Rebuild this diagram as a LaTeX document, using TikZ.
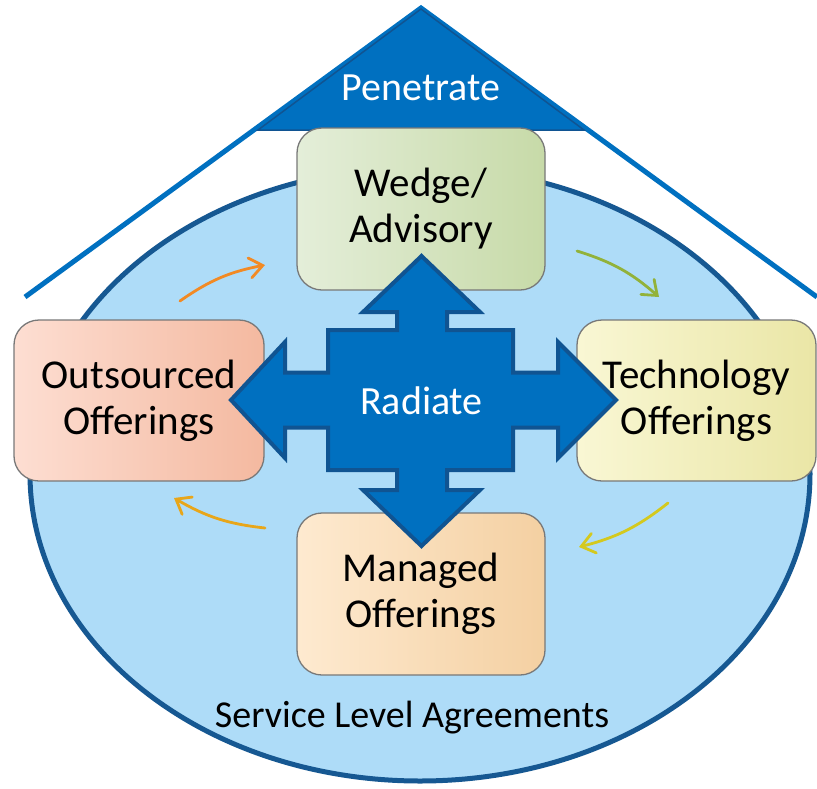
\documentclass[tikz,border=0pt]{standalone}
\usepackage{fontspec}
\setmainfont{Carlito}
\usetikzlibrary{arrows.meta}

\definecolor{ellfill}{RGB}{174,220,248}
\definecolor{ellline}{RGB}{22,88,146}
\definecolor{mainblue}{RGB}{0,112,192}
\definecolor{edgeblue}{RGB}{16,84,146}
\definecolor{boxline}{RGB}{120,120,120}
\definecolor{wedgeA}{RGB}{228,238,217}
\definecolor{wedgeB}{RGB}{199,218,168}
\definecolor{outA}{RGB}{253,222,210}
\definecolor{outB}{RGB}{244,185,160}
\definecolor{techA}{RGB}{249,247,212}
\definecolor{techB}{RGB}{234,230,166}
\definecolor{manA}{RGB}{254,234,208}
\definecolor{manB}{RGB}{244,208,162}
\definecolor{arrOrange}{RGB}{242,138,36}
\definecolor{arrGreen}{RGB}{146,178,58}
\definecolor{arrYellow}{RGB}{212,201,30}
\definecolor{arrGold}{RGB}{232,166,26}

\tikzset{
  offering/.style={draw=boxline, line width=1.3pt, rounded corners=25pt,
    inner sep=0pt, align=center, text=black,
    font=\fontsize{41}{46}\selectfont},
  cyclearrow/.style={line width=2.8pt, line cap=round,
    -{Straight Barb[length=13pt,width=20pt,line cap=round]}},
  bigtext/.style={font=\fontsize{40}{46}\selectfont, inner sep=0pt},
}

\begin{document}
\begin{tikzpicture}[x=1pt,y=-1pt]
\useasboundingbox (0,0) rectangle (817,788);

% service level agreement ellipse
\draw[fill=ellfill, draw=ellline, line width=5pt]
  (420,474) ellipse [x radius=390, y radius=307];

% roof lines and the penetrate triangle
\draw[mainblue, line width=5pt] (25,297) -- (421,8) -- (817,297);
\draw[fill=mainblue, draw=edgeblue, line width=1.5pt, line join=miter]
  (421,9) -- (258,130) -- (584,130) -- cycle;
\node[bigtext, text=white, anchor=base] (penetrate) at (421,100) {Penetrate};

% offering boxes
\node[offering, left color=wedgeA, right color=wedgeB,
  minimum width=248pt, minimum height=162pt] (wedge) at (421,209) {Wedge/\\Advisory};
\node[offering, left color=outA, right color=outB,
  minimum width=250pt, minimum height=161pt] (outsourced) at (139,400.5) {Outsourced\\Offerings};
\node[offering, left color=techA, right color=techB,
  minimum width=239pt, minimum height=161pt] (technology) at (696.5,400.5) {Technology\\Offerings};
\node[offering, left color=manA, right color=manB,
  minimum width=248pt, minimum height=162pt] (managed) at (421,594) {Managed\\Offerings};

% clockwise cycle arrows between the offerings
\coordinate (c1s) at (180,301);
\coordinate (c1e) at (265,265);
\coordinate (c2s) at (577,251);
\coordinate (c2e) at (659,297);
\coordinate (c3s) at (668,503);
\coordinate (c3e) at (579,547);
\coordinate (c4s) at (265,528);
\coordinate (c4e) at (174,498);
\draw[cyclearrow, arrOrange] (c1s) to[bend left=12] (c1e);
\draw[cyclearrow, arrGreen] (c2s) to[bend left=12] (c2e);
\draw[cyclearrow, arrYellow] (c3s) to[bend left=12] (c3e);
\draw[cyclearrow, arrGold] (c4s) to[bend left=12] (c4e);

% four-way radiate arrow
\draw[fill=mainblue, draw=edgeblue, line width=4pt, line join=miter]
  (421.5,256) -- (480,312) -- (447,312) -- (447,330) -- (513,330) --
  (513,372.5) -- (558,372.5) -- (558,342) -- (616,400) -- (558,458) --
  (558,427.5) -- (513,427.5) -- (513,470) -- (447,470) -- (447,490) --
  (480,490) -- (421.5,546) -- (363,490) -- (397,490) -- (397,470) --
  (328,470) -- (328,427.5) -- (285,427.5) -- (285,458) -- (231,400) --
  (285,342) -- (285,372.5) -- (328,372.5) -- (328,330) -- (397,330) --
  (397,312) -- (363,312) -- cycle;
\node[bigtext, text=white, anchor=base] (radiate) at (421.5,414) {Radiate};

% caption inside the ellipse
\node[font=\fontsize{38}{44}\selectfont, inner sep=0pt, anchor=base] (sla)
  at (412,727) {Service Level Agreements};
\end{tikzpicture}
\end{document}
